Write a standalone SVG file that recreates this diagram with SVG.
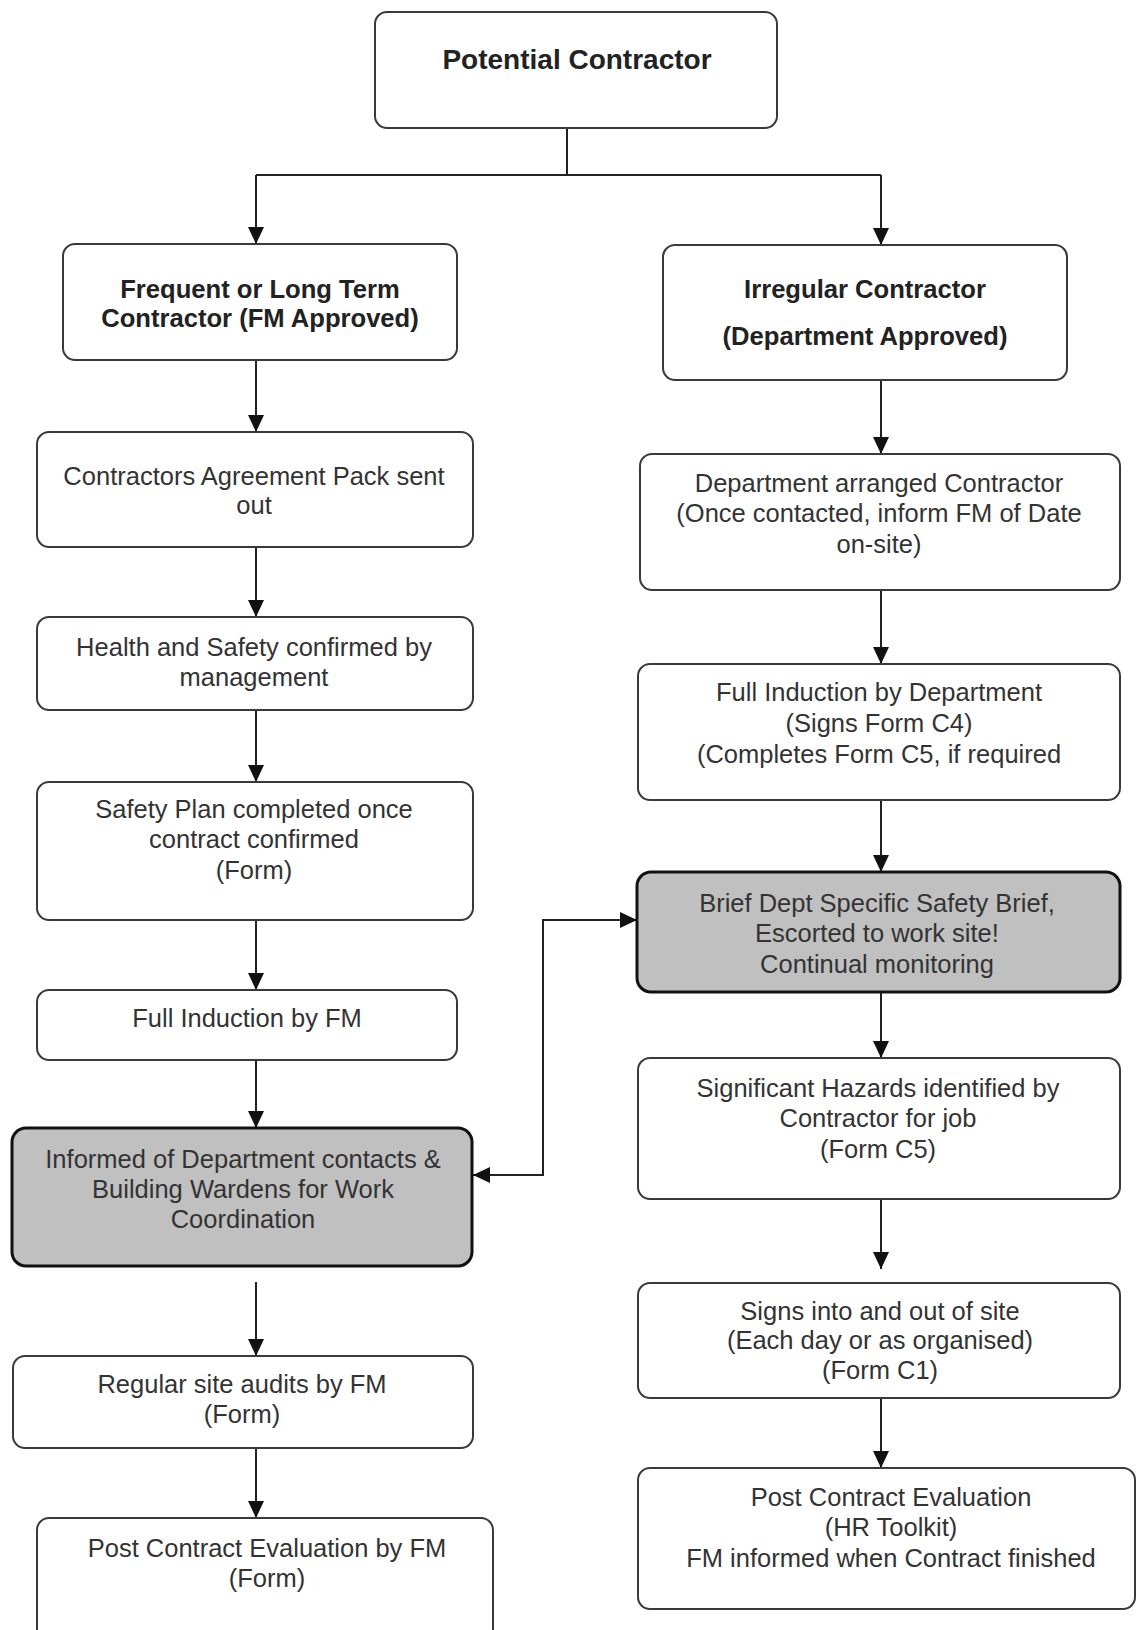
<svg xmlns="http://www.w3.org/2000/svg" width="1137" height="1630" viewBox="0 0 1137 1630">
<style>
.box{fill:#ffffff;stroke:#3a3a3a;stroke-width:2}
.hl{fill:#c0c0c0;stroke:#111111;stroke-width:3}
.t{font-family:"Liberation Sans",Arial,Helvetica,sans-serif;font-size:25.5px;fill:#333333;text-anchor:middle}
.b{font-family:"Liberation Sans",Arial,Helvetica,sans-serif;font-size:25.6px;font-weight:bold;fill:#222222;text-anchor:middle}
.c{fill:none;stroke:#222222;stroke-width:2}
</style>
<defs>
<marker id="ah" viewBox="0 0 17 16" refX="17" refY="8" markerWidth="17" markerHeight="16" markerUnits="userSpaceOnUse" orient="auto-start-reverse">
<path d="M0,0 L17,8 L0,16 z" fill="#111111"/>
</marker>
</defs>
<rect width="1137" height="1630" fill="#ffffff"/>

<g id="connectors">
<path class="c" d="M567,128 V175"/>
<path class="c" d="M256,175 H881"/>
<path class="c" d="M256,175 V244" marker-end="url(#ah)"/>
<path class="c" d="M881,175 V245" marker-end="url(#ah)"/>
<path class="c" d="M256,360 V432" marker-end="url(#ah)"/>
<path class="c" d="M256,547 V617" marker-end="url(#ah)"/>
<path class="c" d="M256,710 V782" marker-end="url(#ah)"/>
<path class="c" d="M256,920 V990" marker-end="url(#ah)"/>
<path class="c" d="M256,1060 V1128" marker-end="url(#ah)"/>
<path class="c" d="M256,1282 V1356" marker-end="url(#ah)"/>
<path class="c" d="M256,1448 V1518" marker-end="url(#ah)"/>
<path class="c" d="M881,380 V454" marker-end="url(#ah)"/>
<path class="c" d="M881,590 V664" marker-end="url(#ah)"/>
<path class="c" d="M881,800 V872" marker-end="url(#ah)"/>
<path class="c" d="M881,992 V1058" marker-end="url(#ah)"/>
<path class="c" d="M881,1199 V1269" marker-end="url(#ah)"/>
<path class="c" d="M881,1398 V1468" marker-end="url(#ah)"/>
<path class="c" d="M473,1175 H543 V920 H637" marker-start="url(#ah)" marker-end="url(#ah)"/>
</g>

<g id="potential-contractor">
<rect class="box" x="375" y="12" width="402" height="116" rx="12"/>
<text class="b" x="577" y="69" style="font-size:28px">Potential Contractor</text>
</g>

<g id="frequent-contractor">
<rect class="box" x="63" y="244" width="394" height="116" rx="12"/>
<text class="b" x="260" y="298">Frequent or Long Term</text>
<text class="b" x="260" y="327">Contractor (FM Approved)</text>
</g>

<g id="irregular-contractor">
<rect class="box" x="663" y="245" width="404" height="135" rx="12"/>
<text class="b" x="865" y="298">Irregular Contractor</text>
<text class="b" x="865" y="345">(Department Approved)</text>
</g>

<g id="agreement-pack">
<rect class="box" x="37" y="432" width="436" height="115" rx="12"/>
<text class="t" x="254" y="485">Contractors Agreement Pack sent</text>
<text class="t" x="254" y="514">out</text>
</g>

<g id="health-safety">
<rect class="box" x="37" y="617" width="436" height="93" rx="12"/>
<text class="t" x="254" y="656">Health and Safety confirmed by</text>
<text class="t" x="254" y="686">management</text>
</g>

<g id="safety-plan">
<rect class="box" x="37" y="782" width="436" height="138" rx="12"/>
<text class="t" x="254" y="818">Safety Plan completed once</text>
<text class="t" x="254" y="848">contract confirmed</text>
<text class="t" x="254" y="879">(Form)</text>
</g>

<g id="full-induction-fm">
<rect class="box" x="37" y="990" width="420" height="70" rx="12"/>
<text class="t" x="247" y="1027">Full Induction by FM</text>
</g>

<g id="informed-contacts">
<rect class="hl" x="12" y="1128" width="460" height="138" rx="14"/>
<text class="t" x="243" y="1168">Informed of Department contacts &amp;</text>
<text class="t" x="243" y="1198">Building Wardens for Work</text>
<text class="t" x="243" y="1228">Coordination</text>
</g>

<g id="regular-audits">
<rect class="box" x="13" y="1356" width="460" height="92" rx="12"/>
<text class="t" x="242" y="1393">Regular site audits by FM</text>
<text class="t" x="242" y="1423">(Form)</text>
</g>

<g id="post-eval-fm">
<rect class="box" x="37" y="1518" width="456" height="130" rx="12"/>
<text class="t" x="267" y="1557">Post Contract Evaluation by FM</text>
<text class="t" x="267" y="1587">(Form)</text>
</g>

<g id="dept-arranged">
<rect class="box" x="640" y="454" width="480" height="136" rx="12"/>
<text class="t" x="879" y="492">Department arranged Contractor</text>
<text class="t" x="879" y="522">(Once contacted, inform FM of Date</text>
<text class="t" x="879" y="553">on-site)</text>
</g>

<g id="full-induction-dept">
<rect class="box" x="638" y="664" width="482" height="136" rx="12"/>
<text class="t" x="879" y="701">Full Induction by Department</text>
<text class="t" x="879" y="732">(Signs Form C4)</text>
<text class="t" x="879" y="763">(Completes Form C5, if required</text>
</g>

<g id="brief-dept">
<rect class="hl" x="637" y="872" width="483" height="120" rx="14"/>
<text class="t" x="877" y="912">Brief Dept Specific Safety Brief,</text>
<text class="t" x="877" y="942">Escorted to work site!</text>
<text class="t" x="877" y="973">Continual monitoring</text>
</g>

<g id="significant-hazards">
<rect class="box" x="638" y="1058" width="482" height="141" rx="12"/>
<text class="t" x="878" y="1097">Significant Hazards identified by</text>
<text class="t" x="878" y="1127">Contractor for job</text>
<text class="t" x="878" y="1158">(Form C5)</text>
</g>

<g id="signs-in-out">
<rect class="box" x="638" y="1283" width="482" height="115" rx="12"/>
<text class="t" x="880" y="1320">Signs into and out of site</text>
<text class="t" x="880" y="1349">(Each day or as organised)</text>
<text class="t" x="880" y="1379">(Form C1)</text>
</g>

<g id="post-eval-hr">
<rect class="box" x="638" y="1468" width="497" height="141" rx="12"/>
<text class="t" x="891" y="1506">Post Contract Evaluation</text>
<text class="t" x="891" y="1536">(HR Toolkit)</text>
<text class="t" x="891" y="1567">FM informed when Contract finished</text>
</g>
</svg>
